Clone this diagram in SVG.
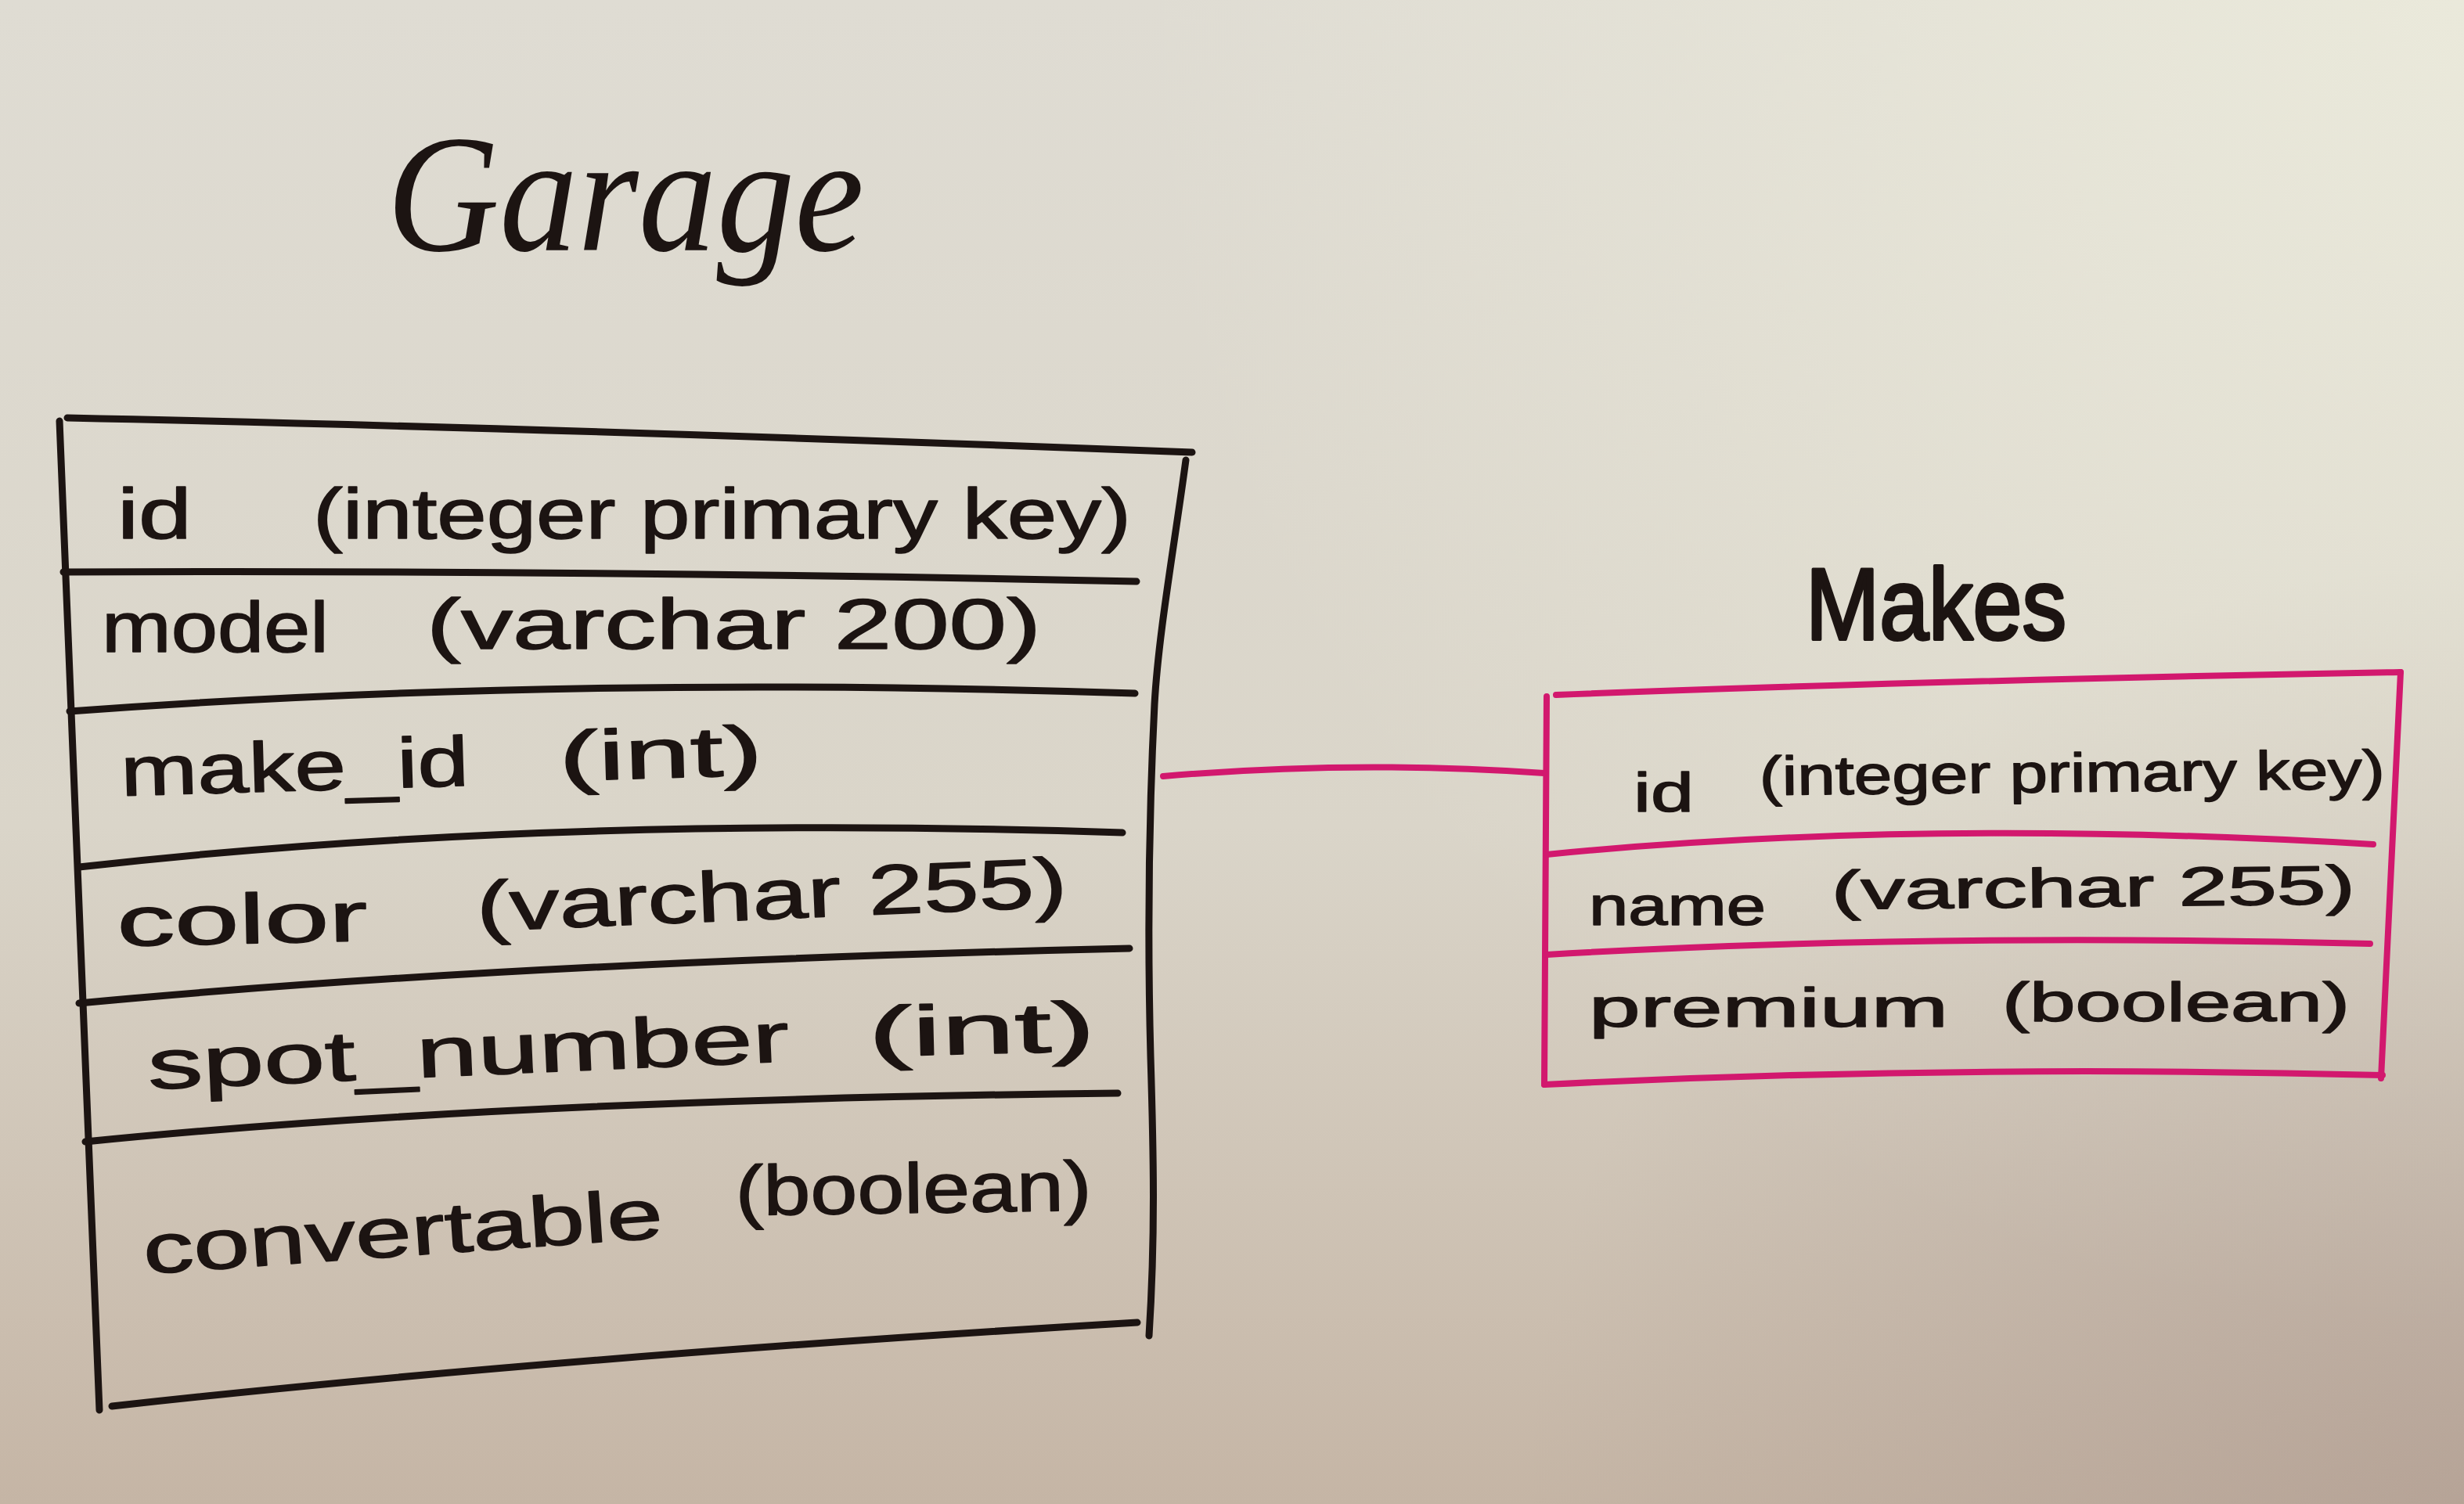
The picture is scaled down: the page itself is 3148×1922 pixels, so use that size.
<svg xmlns="http://www.w3.org/2000/svg" width="3148" height="1922" viewBox="0 0 3148 1922">
  <defs>
    <!-- paper shading -->
    <linearGradient id="paper" x1="0" y1="0" x2="0" y2="1">
      <stop offset="0" stop-color="#dfdcd3"/>
      <stop offset="0.55" stop-color="#dad5c9"/>
      <stop offset="1" stop-color="#c5b5a5"/>
    </linearGradient>
    <radialGradient id="glow" cx="3148" cy="0" r="1700" gradientUnits="userSpaceOnUse">
      <stop offset="0" stop-color="#f0f0df" stop-opacity="0.65"/>
      <stop offset="1" stop-color="#f0f0df" stop-opacity="0"/>
    </radialGradient>
    <radialGradient id="shade" cx="3148" cy="1922" r="1200" gradientUnits="userSpaceOnUse">
      <stop offset="0" stop-color="#9a837c" stop-opacity="0.35"/>
      <stop offset="1" stop-color="#9a837c" stop-opacity="0"/>
    </radialGradient>
    <style>
      .ink { fill: none; stroke: #1c1412; stroke-width: 9; stroke-linecap: round; stroke-linejoin: round; }
      .pink { fill: none; stroke: #d2186e; stroke-width: 8; stroke-linecap: round; stroke-linejoin: round; }
      .txt { fill: #1c1412; stroke: #1c1412; stroke-width: 1.5; stroke-linejoin: round; font-family: "Liberation Sans", Arial, sans-serif; }
      .row { font-size: 90px; }
      .mrow { font-size: 70px; }
      .title { fill: #1c1412; font-family: "Liberation Serif", "Times New Roman", serif; font-style: italic; font-size: 215px; }
      .mtitle { fill: #1c1412; stroke: #1c1412; stroke-width: 4; stroke-linejoin: round; font-family: "Liberation Sans", Arial, sans-serif; font-size: 130px; }
    </style>
  </defs>

  <!-- paper -->
  <rect x="0" y="0" width="3148" height="1922" fill="url(#paper)"/>
  <rect x="0" y="0" width="3148" height="1922" fill="url(#glow)"/>
  <rect x="0" y="0" width="3148" height="1922" fill="url(#shade)"/>

  <!-- Garage table -->
  <g id="garage">
    <text class="title" x="494" y="320" textLength="610" lengthAdjust="spacingAndGlyphs">Garage</text>
    <path class="ink" d="M86,534 Q700,547 1523,578"/>
    <path class="ink" d="M76,538 L127,1802"/>
    <path class="ink" d="M1515,588 C1500,700 1480,810 1475,900 C1468,1040 1466,1200 1470,1350 C1474,1480 1476,1580 1468,1707"/>
    <path class="ink" d="M81,731 Q720,728 1452,743"/>
    <path class="ink" d="M89,909 Q720,862 1450,886"/>
    <path class="ink" d="M101,1108 Q700,1040 1434,1064"/>
    <path class="ink" d="M101,1282 Q650,1230 1443,1212"/>
    <path class="ink" d="M109,1459 Q650,1405 1428,1397"/>
    <path class="ink" d="M143,1797 Q700,1735 1453,1690"/>

    <text class="txt row" x="150" y="688" textLength="95" lengthAdjust="spacingAndGlyphs">id</text>
    <text class="txt row" x="400" y="688" textLength="1045" lengthAdjust="spacingAndGlyphs">(integer primary key)</text>

    <text class="txt row" x="130" y="833" textLength="290" lengthAdjust="spacingAndGlyphs">model</text>
    <text class="txt row" x="545" y="829" textLength="785" lengthAdjust="spacingAndGlyphs">(varchar 200)</text>

    <text class="txt row" x="155" y="1017" textLength="445" lengthAdjust="spacingAndGlyphs" transform="rotate(-1.7 155 1017)">make_id</text>
    <text class="txt row" x="715" y="998" textLength="260" lengthAdjust="spacingAndGlyphs" transform="rotate(-1.7 715 998)">(int)</text>

    <text class="txt row" x="150" y="1209" textLength="320" lengthAdjust="spacingAndGlyphs" transform="rotate(-1.2 150 1209)">color</text>
    <text class="txt row" x="610" y="1190" textLength="755" lengthAdjust="spacingAndGlyphs" transform="rotate(-2.4 610 1190)">(varchar 255)</text>

    <text class="txt row" x="190" y="1392" textLength="820" lengthAdjust="spacingAndGlyphs" transform="rotate(-2.5 190 1392)">spot_number</text>
    <text class="txt row" x="1110" y="1350" textLength="290" lengthAdjust="spacingAndGlyphs" transform="rotate(-1.4 1110 1350)">(int)</text>

    <text class="txt row" x="185" y="1628" textLength="665" lengthAdjust="spacingAndGlyphs" transform="rotate(-4 185 1628)">convertable</text>
    <text class="txt row" x="940" y="1553" textLength="455" lengthAdjust="spacingAndGlyphs" transform="rotate(-0.8 940 1553)">(boolean)</text>
  </g>

  <!-- Makes table -->
  <g id="makes">
    <text class="mtitle" x="2307" y="817" textLength="333" lengthAdjust="spacingAndGlyphs">Makes</text>
    <path class="pink" d="M1988,888 Q2450,870 3067,859"/>
    <path class="pink" d="M1976,890 L1973,1386"/>
    <path class="pink" d="M3067,859 L3042,1378"/>
    <path class="pink" d="M1976,1092 Q2450,1045 3032,1079"/>
    <path class="pink" d="M1976,1220 Q2450,1192 3028,1206"/>
    <path class="pink" d="M1973,1386 Q2500,1360 3044,1374"/>

    <text class="txt mrow" x="2087" y="1037" textLength="77" lengthAdjust="spacingAndGlyphs">id</text>
    <text class="txt mrow" x="2248" y="1016" textLength="799" lengthAdjust="spacingAndGlyphs" transform="rotate(-0.6 2248 1016)">(integer primary key)</text>

    <text class="txt mrow" x="2030" y="1182" textLength="226" lengthAdjust="spacingAndGlyphs">name</text>
    <text class="txt mrow" x="2340" y="1162" textLength="669" lengthAdjust="spacingAndGlyphs" transform="rotate(-0.6 2340 1162)">(varchar 255)</text>

    <text class="txt mrow" x="2030" y="1312" textLength="459" lengthAdjust="spacingAndGlyphs">premium</text>
    <text class="txt mrow" x="2558" y="1305" textLength="444" lengthAdjust="spacingAndGlyphs">(boolean)</text>
  </g>

  <!-- relationship: Garage.make_id to Makes.id -->
  <g id="connectors">
    <path class="pink" d="M1486,992 Q1729,971 1973,988"/>
  </g>
</svg>
